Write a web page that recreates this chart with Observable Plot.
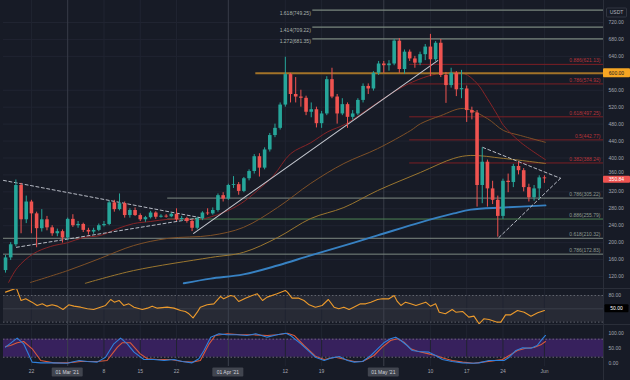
<!DOCTYPE html>
<html>
<head>
<meta charset="utf-8">
<script src="https://cdn.jsdelivr.net/npm/d3@7"></script>
<script src="https://cdn.jsdelivr.net/npm/@observablehq/plot@0.6"></script>
<style>
  html,body{margin:0;padding:0;background:#171b26;}
  #wrap{width:630px;height:380px;overflow:hidden;background:#171b26;}
  #wrap svg{display:block;}
</style>
</head>
<body>
<div id="wrap"></div>
<script>
// ---------- DATA (daily candles from 17 Feb 2021, index = day offset) ----------
const open = [134,164,195,335,254,296,268,233,254,235,
  221,226,211,255,240,243,229,225,229,240,
  243,294,278,292,264,276,264,254,259,270,
  260,262.5,261,267,254,257,250,234,256,270,
  268,276,311,303,335,337,321,351,368,403,
  376,419,453,470,525,597,550,544,541,508,
  514,481,504,585,544,504,526,496,504,536,
  569,563,600,622,618,622,676,609,650,634,
  624,644,662,632,671,595,571,600,561,563,
  512,506,335,390,327,300,262,345,342,380,
  370,330,306,327,353];
const close = [164,195,335,254,296,268,233,254,235,221,
  226,211,255,240,243,229,225,229,240,243,
  294,278,292,264,276,264,254,259,270,260,
  262.5,260.5,267,254,257,250,234,256,270,268,
  276,311,303,335,337,321,351,368,403,376,
  419,453,470,525,597,550,544,541,508,514,
  481,504,585,544,504,526,496,504,536,569,
  563,600,622,618,622,676,609,650,634,624,
  644,662,632,671,595,571,600,561,564,512,
  506,335,390,327,300,262,345,342,380,370,
  330,306,327,353,350.84];
const high = [170,200,348,340,310,300,272,278,262,240,
  232,230,258,266,250,246,234,234,244,250,
  298,300,315,296,280,282,268,262,274,273,
  266,266,270,280,262,260,253,260,273,280,
  282,315,318,338,356,342,354,372,408,410,
  424,458,480,530,638,600,590,560,546,530,
  520,510,592,612,550,540,530,512,540,575,
  575,604,628,628,630,680,682,655,655,640,
  650,668,692,675,680,602,612,604,607,570,
  520,512,424,395,345,310,350,362,385,390,
  375,338,335,358,358];
const low = [128,158,190,221,245,221,188,225,228,215,
  214,199,205,236,234,224,218,220,226,237,
  240,272,275,258,258,262,250,248,256,255,
  258,258,259,250,250,246,226,230,252,264,
  265,272,296,300,328,312,318,346,362,355,
  372,414,448,466,520,530,530,520,500,495,
  471,470,500,540,480,500,470,490,500,530,
  550,558,595,600,605,618,600,598,628,612,
  618,630,592,628,590,529,565,545,540,484,
  490,284,292,284,290,213,255,318,330,360,
  320,296,298,300,340];

// moving averages: [day, price]
const ma20 = [[0.6,106],[2.3,141],[5.4,174],[8.7,191],[12,200],[15,212],[18.3,217],[21.6,233],[24.7,245],[28,250],[31.3,255],[34.4,255],[37.6,255],[42,271],[45.4,292],[48.6,323],[51.7,358],[55,410],[58.9,436],[62.2,462],[65.6,480],[71,524],[76.3,566],[80.7,590],[84,600],[88.4,600],[91,576],[93,540],[95,500],[96.1,477],[99.4,437],[104.2,396]];
const ma50 = [[4.8,106],[12,134],[18.3,163],[24.7,193],[31.3,210],[39.6,217],[45.9,236],[52.5,283],[58.9,340],[65.3,387],[71.8,422],[78.2,465],[80.1,481],[84,500],[88.4,517],[93,493],[96.1,465],[99.4,453],[104.2,437]];
const ma100 = [[15.4,104],[24.7,134],[39.6,165],[45.9,177],[52.5,212],[58.9,257],[65.3,283],[71.8,323],[80.1,366],[86.5,399],[89.8,406],[96.1,399],[104.2,387]];
const ma200 = [[34.4,104],[39.6,115],[45.9,125],[52.5,146],[58.9,170],[65.3,193],[71.8,217],[80.1,248],[86.5,269],[89.8,278],[96.1,283],[104.2,288]];

// drawings: [day, price]
const triLeftTop = [[-0.39,347],[37.6,259]];
const triLeftBottom = [[2.1,189],[37.6,259]];
const trendUp = [[36.3,222],[83.4,630]];
const triRightTop = [[92.1,425],[107.1,352]];
const triRightBottom = [[95.2,212],[107.1,352]];

// Fibonacci levels
const extLabels = ["1.618(749.25)","1.414(709.22)","1.272(681.35)"];
const extValues = [749.25,709.22,681.35];
const extStart = 59.3;
const retLabels = ["0.886(621.13)","0.786(574.92)","0.618(497.25)","0.5(442.77)","0.382(388.24)"];
const retValues = [621.13,574.92,497.25,442.77,388.24];
const retStart = 78;
const supLabels = ["0.786(305.22)","0.886(255.79)","0.618(210.32)","0.786(172.83)"];
const supValues = [305.22,255.79,210.32,172.83];
const supStart = [31.3,31.3,-0.39,-0.39];
const supKind = ["grey","green","grey","grey"];
const resistance = 600;
const resistanceStart = 48.3;
const lastPrice = 350.84;

// indicators: [day, value]
const rsi = [[0,87.6],[2.1,96.6],[3,68.8],[3.9,72.5],[5.1,65],[6.1,57.5],[7.1,61.2],[8,56],[9,59],[10,56],[11.1,48.5],[12.2,59],[13.2,56],[14.5,53.7],[15.8,50],[17,48.5],[18.3,53.7],[19.3,57.5],[20.3,71],[21,65],[21.9,68.8],[22.8,57.5],[23.8,61.2],[24.8,53.7],[26.4,48.5],[27.4,51.5],[28.3,56],[29.3,51.5],[31.2,53.7],[32.5,51.5],[33.8,46.2],[34.7,44],[35.4,38.7],[36.2,29.7],[37,42.4],[37.6,53.7],[38.9,59],[40.2,61.2],[41.5,77.8],[42.1,72.5],[43.4,80],[44.1,78.5],[45,66.5],[46.3,74],[47.6,80],[48.6,83.8],[49.6,68.8],[50.5,76.3],[52.4,83.8],[54,91.3],[54.4,87.6],[55.3,74],[56.6,74],[57.6,68.8],[58.6,59],[59.8,53.5],[61.1,57.5],[62.3,71],[63.4,53.7],[64.3,50],[65.3,53.7],[66.3,48.5],[67.2,53.7],[68.5,61.2],[69.5,61.2],[70.5,65],[71.8,71],[72.7,72.5],[74,72.5],[75,80],[75.6,66.5],[76.3,57.5],[77.2,65],[78.2,61.2],[79.2,57.5],[81.1,65],[82,56],[83,61.2],[83.7,42.4],[84.9,38.7],[86.2,48.5],[86.9,42.4],[88.2,44],[89.4,31.2],[90.4,33.4],[91.4,16.1],[92.3,27.4],[93.3,25.9],[94.9,19.9],[95.6,19.9],[96.5,36.4],[97.5,36.4],[98.8,46.2],[100.1,42.4],[101.4,33.4],[102.7,40.9],[104,46.2]];
const stochK = [[0,53.5],[2.25,83.5],[3.5,64.6],[5.15,3.5],[6.8,1.2],[9.3,1.2],[11.9,0],[14.2,9],[15.8,5.7],[17.7,3.5],[19.3,20],[20.9,64.6],[22.2,83.5],[23.5,64.6],[24.8,36.8],[26.7,12.4],[28.6,12.4],[30.6,9],[32.5,12.4],[34.1,5.7],[36,1.2],[37.3,14.6],[38.3,42.4],[39.6,86.8],[41.2,97.9],[42.8,94.6],[44.7,94.6],[46.6,92.4],[48.3,97.9],[50.5,86.8],[52.4,94.6],[54.1,100],[55,92.4],[57,64.6],[59.8,20],[61.5,9],[62.7,16.8],[64.4,22.4],[66,9],[67.3,3.5],[68.9,5.7],[70.5,25.7],[71.8,48],[73,68],[74.3,81.2],[75.3,86.8],[76.3,75.7],[77.5,59],[78.5,42.4],[79.8,39],[81.7,36.8],[83,25.7],[84.3,12.4],[86.2,5.7],[88.2,1.2],[90.1,0],[91.4,1.2],[93.3,9],[94.9,9],[96.2,9],[97.2,20],[98.5,42.4],[99.8,51.2],[101.4,50],[102.6,59],[103.6,81.2],[104.2,92.4]];
const stochD = [[0,55.7],[0.96,59],[2.25,68],[3.5,72.4],[5.15,48],[6.8,9],[9.3,1.2],[11.9,1.2],[14.5,5.7],[17.7,5.7],[19.6,9],[21.6,53.5],[22.5,68],[24.1,68],[26,31.2],[27.4,14.6],[29.3,12.4],[31.9,12.4],[34.1,5.7],[36,3.5],[37.6,9],[39.3,64.6],[40.5,92.4],[42.8,97.9],[45.4,94.6],[47.9,94.6],[50.5,92.4],[52.4,94.6],[54.4,100],[55.7,92.4],[57.6,59],[59.8,23.5],[61.5,12.4],[63.7,20],[65.6,12.4],[67.3,5.7],[68.9,5.7],[71.1,25.7],[72.7,53.5],[74.3,75.7],[75.6,81.2],[76.9,70.1],[78.2,48],[79.5,40.1],[81.7,31.2],[83,25.7],[84.6,16.8],[86.2,9],[88.2,3.5],[90.4,0],[92,3.5],[94,7.9],[95.9,12.4],[97.2,25.7],[98.8,42.4],[100.4,50],[102,52.4],[103.3,61.2],[104.2,72.4]];

// axis ticks
const priceTicks = [120,160,200,240,280,320,360,400,440,480,520,560,640,680,720];
const gridDays = [5,19,26,33,54,61,82,89,96,104];
const gridLabels = ["22","8","15","22","12","19","10","17","24","Jun"];
const monthDays = [12,43,73];
const monthLabels = ["01 Mar '21","01 Apr '21","01 May '21"];

// ---------- RENDER ----------
const DAY0 = Date.UTC(2021, 1, 17);
const day = i => new Date(DAY0 + i * 864e5);
const X0 = -0.39, X1 = 115.4;
const FONT = "'Liberation Sans', Arial, sans-serif";
const AXIS_TXT = "#a3a6af";
const GRID = "#202431";
const baseStyle = {background: "transparent", fontFamily: FONT, fontSize: "5px", color: AXIS_TXT};
const xScale = {type: "utc", domain: [day(X0), day(X1)]};
const pd = d => day(d[0]);
const pv = d => d[1];
const fmt = d3.format(".2f");

const candles = open.map((o, i) => ({date: day(i), o, c: close[i], h: high[i], l: low[i]}));
const cColor = d => d.c >= d.o ? "#26a69a" : "#ef5350";
const axisTicks = priceTicks.filter(t => Math.abs(t - lastPrice) > 12);
const nearTicks = priceTicks.filter(t => Math.abs(t - lastPrice) <= 12);

const frameCommon = {width: 630, marginLeft: 3, marginRight: 27, marginTop: 0, color: {type: "identity"}};

const main = Plot.plot({
  ...frameCommon, height: 288, marginBottom: 0, style: baseStyle,
  x: {...xScale, axis: null},
  y: {domain: [91.7, 772]},
  marks: [
    Plot.gridY({ticks: priceTicks, stroke: GRID, strokeOpacity: 1}),
    Plot.ruleX(gridDays, {x: d => day(d), stroke: GRID}),
    Plot.ruleX(monthDays, {x: d => day(d), stroke: "#383c48"}),
    // fib extensions (top)
    Plot.ruleY(extValues, {y: d => d, x1: () => day(extStart), x2: () => day(X1), stroke: "#7a877e", strokeWidth: 1.1}),
    Plot.text(extLabels, {text: d => d, x: () => day(extStart), y: (d, i) => extValues[i], textAnchor: "end", dx: -2, dy: 3, fill: "#a9b2ab", fontSize: 5}),
    // fib retracements (red)
    Plot.ruleY(retValues, {y: d => d, x1: () => day(retStart), x2: () => day(X1), stroke: "#7c1f24", strokeWidth: 1}),
    Plot.text(retLabels, {text: d => d, y: (d, i) => retValues[i], frameAnchor: "right", textAnchor: "end", dx: -3, dy: -3.5, fill: "#b8343a", fontSize: 5}),
    // fib supports (lower)
    Plot.ruleY(supValues, {y: d => d, x1: (d, i) => day(supStart[i]), x2: () => day(X1), stroke: (d, i) => supKind[i] === "green" ? "#4d8454" : "#7d8981", strokeWidth: 1}),
    Plot.text(supLabels, {text: d => d, y: (d, i) => supValues[i], frameAnchor: "right", textAnchor: "end", dx: -3, dy: -3.5, fill: "#8e9a90", fontSize: 5}),
    // moving averages
    Plot.line(ma200, {x: pd, y: pv, stroke: "#3781c2", strokeWidth: 1.9, curve: "catmull-rom"}),
    Plot.line(ma100, {x: pd, y: pv, stroke: "#9a762f", strokeWidth: 1, curve: "catmull-rom"}),
    Plot.line(ma50, {x: pd, y: pv, stroke: "#7e5027", strokeWidth: 1, curve: "catmull-rom"}),
    Plot.line(ma20, {x: pd, y: pv, stroke: "#872427", strokeWidth: 1, curve: "catmull-rom"}),
    // resistance
    Plot.ruleY([resistance], {x1: () => day(resistanceStart), x2: () => day(X1), stroke: "#a37328", strokeWidth: 2}),
    // drawings
    Plot.line(trendUp, {x: pd, y: pv, stroke: "#c2c5cd", strokeWidth: 1.1}),
    Plot.line(triLeftTop, {x: pd, y: pv, stroke: "#b8bcc6", strokeWidth: 1, strokeDasharray: "3,2.5"}),
    Plot.line(triLeftBottom, {x: pd, y: pv, stroke: "#b8bcc6", strokeWidth: 1, strokeDasharray: "3,2.5"}),
    Plot.line(triRightTop, {x: pd, y: pv, stroke: "#b8bcc6", strokeWidth: 1, strokeDasharray: "3,2.5"}),
    Plot.line(triRightBottom, {x: pd, y: pv, stroke: "#b8bcc6", strokeWidth: 1, strokeDasharray: "3,2.5"}),
    // candles
    Plot.ruleX(candles, {x: "date", y1: "l", y2: "h", stroke: cColor, strokeWidth: 1}),
    Plot.ruleX(candles, {x: "date", y1: "o", y2: "c", stroke: cColor, strokeWidth: 3.6}),
    Plot.axisY({ticks: axisTicks, anchor: "right", tickSize: 0, tickPadding: 5, tickFormat: fmt, fontSize: 5, fill: AXIS_TXT, label: null}),
    Plot.axisY({ticks: nearTicks, anchor: "right", tickSize: 0, tickPadding: 5, tickFormat: fmt, fontSize: 5, fill: AXIS_TXT, label: null, dy: -3})
  ]
});

const rsiPlot = Plot.plot({
  ...frameCommon, height: 36, marginBottom: 0, style: baseStyle,
  x: {...xScale, axis: null},
  y: {domain: [14.6, 95.8]},
  marks: [
    Plot.rect([0], {x1: () => day(X0), x2: () => day(X1), y1: () => 20, y2: () => 80, fill: "#272a35"}),
    Plot.ruleX(gridDays, {x: d => day(d), stroke: GRID}),
    Plot.ruleX(monthDays, {x: d => day(d), stroke: "#3c404c"}),
    Plot.ruleY([20, 80], {stroke: "#5f636d", strokeDasharray: "1.5,2"}),
    Plot.ruleY([50], {stroke: "#3a3e49"}),
    Plot.line(rsi, {x: pd, y: pv, stroke: "#ec9a2c", strokeWidth: 1.1}),
    Plot.axisY({ticks: [80], anchor: "right", tickSize: 0, tickPadding: 5, tickFormat: fmt, fontSize: 5, fill: AXIS_TXT, label: null})
  ]
});

const stochPlot = Plot.plot({
  ...frameCommon, height: 56, marginBottom: 14, style: baseStyle,
  x: {...xScale, axis: null},
  y: {domain: [-11, 129]},
  marks: [
    Plot.rect([0], {x1: () => day(X0), x2: () => day(X1), y1: () => 20, y2: () => 80, fill: "#37215d"}),
    Plot.ruleX(gridDays, {x: d => day(d), stroke: GRID}),
    Plot.ruleX(monthDays, {x: d => day(d), stroke: "#3c404c"}),
    Plot.ruleY([20, 80], {stroke: "#6b6578", strokeDasharray: "1.5,2"}),
    Plot.line(stochD, {x: pd, y: pv, stroke: "#d9593c", strokeWidth: 1.1}),
    Plot.line(stochK, {x: pd, y: pv, stroke: "#2f80dc", strokeWidth: 1.1}),
    Plot.text(gridLabels, {text: d => d, x: (d, i) => day(gridDays[i]), frameAnchor: "bottom", dy: 6, fill: AXIS_TXT, fontSize: 5}),
    Plot.axisY({ticks: [100, 50, 0], anchor: "right", tickSize: 0, tickPadding: 5, tickFormat: fmt, fontSize: 5, fill: AXIS_TXT, label: null})
  ]
});

const wrap = document.getElementById("wrap");
wrap.append(main, rsiPlot, stochPlot);

function box(svg, cx, cy, w, h, fill, text, color, stroke) {
  const g = d3.select(svg).append("g");
  g.append("rect").attr("x", cx - w / 2).attr("y", cy - h / 2).attr("width", w).attr("height", h)
    .attr("rx", 1).attr("fill", fill).attr("stroke", stroke || "none").attr("stroke-width", 0.8);
  g.append("text").attr("x", cx).attr("y", cy).attr("text-anchor", "middle").attr("dy", "0.35em")
    .attr("font-size", 5).attr("font-family", FONT).attr("fill", color).text(text);
}
function hline(svg, y, x1, x2, color) {
  d3.select(svg).append("line").attr("x1", x1).attr("x2", x2).attr("y1", y).attr("y2", y).attr("stroke", color);
}
function vline(svg, x, y1, y2, color) {
  d3.select(svg).append("line").attr("x1", x).attr("x2", x).attr("y1", y1).attr("y2", y2).attr("stroke", color);
}

const my = main.scale("y");
vline(main, 603.5, 0, 288, "#2a2e39");
box(main, 616.5, my.apply(resistance), 27, 9, "#f6a623", fmt(resistance), "#131722");
box(main, 616.5, my.apply(lastPrice) + 1, 27, 7, "#ef5350", fmt(lastPrice), "#ffffff");
box(main, 616.5, 12.5, 20, 9, "#171b26", "USDT", "#b2b5be", "#3a3e4a");

const ry = rsiPlot.scale("y");
hline(rsiPlot, 0.5, 0, 630, "#2a2e39");
vline(rsiPlot, 603.5, 0, 36, "#2a2e39");
box(rsiPlot, 616.5, ry.apply(50), 24, 8, "#000000", fmt(50), "#ffffff");

const sx = stochPlot.scale("x");
hline(stochPlot, 0.5, 0, 630, "#2a2e39");
vline(stochPlot, 603.5, 0, 56, "#2a2e39");
monthDays.forEach((d, i) => box(stochPlot, sx.apply(day(d)), 48, 31, 9, "#41454f", monthLabels[i], "#d1d4dc"));
</script>
</body>
</html>
